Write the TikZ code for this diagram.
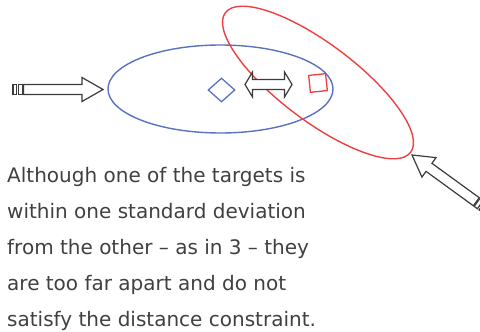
\documentclass[tikz,border=0pt]{standalone}
\usepackage{fontspec}
\setmainfont{DejaVu Sans}
\usepackage{xcolor}
\usepackage{tikz}
\usetikzlibrary{shapes.geometric}
\definecolor{ovalblue}{RGB}{90,114,192}
\definecolor{ovalred}{RGB}{238,64,64}
\definecolor{arrowgray}{RGB}{60,60,60}
\definecolor{textgray}{RGB}{64,64,64}
\tikzset{
  blockarrow/.pic={
    \draw[arrowline] (0,-5) rectangle (3.5,5);
    \draw[arrowline] (5.5,-5) rectangle (9.5,5);
    \draw[arrowline] (10.5,-5) -- (69,-5) -- (69,-12) -- (90,0) -- (69,12) -- (69,5) -- (10.5,5) -- cycle;
  }
}

\begin{document}
\begin{tikzpicture}[x=1pt, y=-1pt,
  oval/.style={draw, ellipse, line width=1.4pt, inner sep=0pt},
  marker/.style={draw, line width=1.3pt, inner sep=0pt},
  arrowline/.style={draw=arrowgray, fill=white, line width=1.2pt, line join=miter}
]
\useasboundingbox (0,0) rectangle (480,332);
\node[oval, draw=ovalblue, minimum width=225pt, minimum height=88pt] (spread) at (220.5,89) {};
\node[oval, draw=ovalred, minimum width=232pt, minimum height=77pt, rotate=-37] (otherspread) at (318,82.5) {};
\node[marker, draw=ovalblue, diamond, minimum width=27pt, minimum height=24pt] (target) at (221.5,90) {};
\node[marker, draw=ovalred, minimum size=17pt, rotate=6] (othertarget) at (318,83) {};
\draw[arrowline] (245,84.5) -- (252.5,72) -- (252.5,79.5) -- (284.5,79.5) -- (284.5,72) -- (292,84.5)
  -- (284.5,97) -- (284.5,89.5) -- (252.5,89.5) -- (252.5,97) -- cycle;
\pic at (13,89.5) {blockarrow};
\pic[rotate=144] at (484.8,207.9) {blockarrow};
\node[anchor=base west, align=left, inner sep=0pt, text=textgray, font=\fontsize{20}{36}\selectfont] (caption) at (7,326.7)
  {Although one of the targets is\\within one standard deviation\\from the other – as in 3 – they\\are too far apart and do not\\satisfy the distance constraint.};
\end{tikzpicture}
\end{document}
